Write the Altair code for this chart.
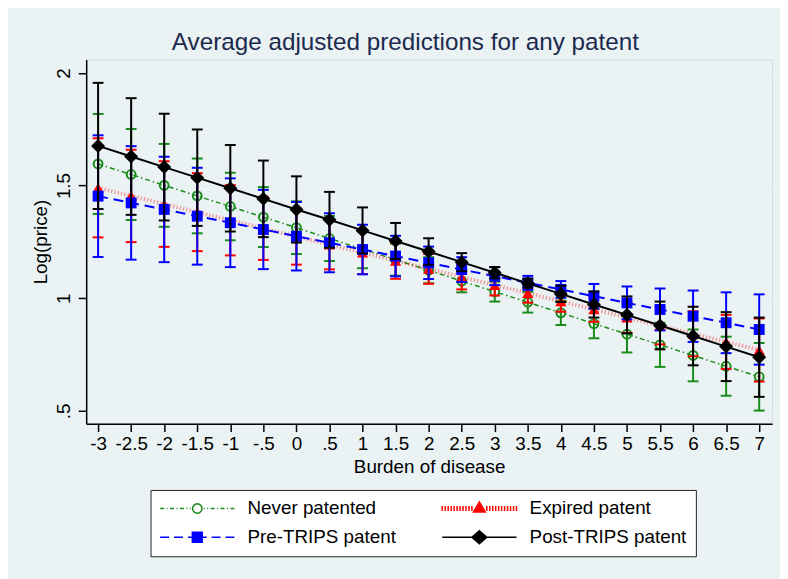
import math
import altair as alt
import pandas as pd

# ---------------- data ----------------
x_values = [-3, -2.5, -2, -1.5, -1, -0.5, 0, 0.5, 1, 1.5, 2, 2.5, 3, 3.5, 4, 4.5, 5, 5.5, 6, 6.5, 7]
x_ticks = [-3, -2.5, -2, -1.5, -1, -0.5, 0, 0.5, 1, 1.5, 2, 2.5, 3, 3.5, 4, 4.5, 5, 5.5, 6, 6.5, 7]
y_ticks = [0.5, 1, 1.5, 2]

series_names = ["Never patented", "Expired patent", "Pre-TRIPS patent", "Post-TRIPS patent"]

never_mean = [1.596, 1.549, 1.501, 1.454, 1.407, 1.360, 1.313, 1.265, 1.218, 1.171, 1.124,
              1.076, 1.029, 0.982, 0.935, 0.887, 0.840, 0.793, 0.746, 0.698, 0.651]
never_half = [0.222, 0.202, 0.184, 0.166, 0.150, 0.133, 0.117, 0.100, 0.085, 0.071, 0.058,
              0.050, 0.044, 0.046, 0.054, 0.065, 0.081, 0.098, 0.115, 0.131, 0.150]

expired_mean = [1.490, 1.454, 1.418, 1.382, 1.346, 1.310, 1.274, 1.238, 1.202, 1.166, 1.130,
                1.094, 1.058, 1.022, 0.986, 0.950, 0.914, 0.878, 0.842, 0.806, 0.770]
expired_half = [0.220, 0.205, 0.190, 0.173, 0.156, 0.140, 0.125, 0.110, 0.095, 0.080, 0.066,
                0.055, 0.046, 0.042, 0.046, 0.055, 0.068, 0.083, 0.100, 0.120, 0.140]

pre_mean = [1.453, 1.423, 1.394, 1.364, 1.335, 1.305, 1.275, 1.246, 1.216, 1.187, 1.157,
            1.127, 1.098, 1.068, 1.039, 1.009, 0.979, 0.950, 0.920, 0.891, 0.861]
pre_half = [0.270, 0.252, 0.234, 0.215, 0.197, 0.176, 0.152, 0.131, 0.110, 0.090, 0.072,
            0.055, 0.040, 0.031, 0.037, 0.054, 0.073, 0.093, 0.114, 0.135, 0.156]

post_mean = [1.676, 1.629, 1.582, 1.535, 1.488, 1.441, 1.394, 1.348, 1.301, 1.254, 1.207,
             1.160, 1.113, 1.066, 1.019, 0.972, 0.926, 0.879, 0.832, 0.785, 0.738]
post_half = [0.280, 0.259, 0.237, 0.214, 0.192, 0.170, 0.147, 0.124, 0.102, 0.080, 0.059,
             0.040, 0.025, 0.020, 0.036, 0.058, 0.082, 0.106, 0.130, 0.153, 0.176]

means = [never_mean, expired_mean, pre_mean, post_mean]
halves = [never_half, expired_half, pre_half, post_half]

rows = []
for name, ms, hs in zip(series_names, means, halves):
    for xv, m, h in zip(x_values, ms, hs):
        rows.append({"series": name, "x": xv, "y": m, "lo": m - h, "hi": m + h})
df = pd.DataFrame(rows)

# ---------------- styles ----------------
FONT = "Liberation Sans"
GREEN, RED, BLUE, BLACK = "#1a8c1a", "#ff0000", "#0000ff", "#000000"
colors = [GREEN, RED, BLUE, BLACK]
fills = ["white", RED, BLUE, BLACK]

styles = {
    "Never patented": dict(color=GREEN, dash=[5, 3, 1.5, 3], width=1.5, lop=1.0,
                           shape="circle", filled=False, size=80),
    "Expired patent": dict(color=RED, dash=[1.2, 2.2], width=4, lop=0.42,
                           shape="triangle-up", filled=True, size=130),
    "Pre-TRIPS patent": dict(color=BLUE, dash=[10, 6], width=2, lop=1.0,
                             shape="square", filled=True, size=121),
    "Post-TRIPS patent": dict(color=BLACK, dash=None, width=2, lop=1.0,
                              shape="diamond", filled=True, size=200),
}

# legend symbols: line sample + marker drawn as one custom path
SYM_SIZE = 256               # legend symbol size -> sqrt = 16 px
U = math.sqrt(SYM_SIZE) / 2  # px per path unit
SW = 1.5
HALF = 37.5                  # half length of the legend line sample, px
entry_size = math.sqrt(SYM_SIZE) + SW
SHIFT = HALF - entry_size / 2  # move the sample so that it starts at the entry origin


def f(v):
    return f"{(v + SHIFT) / U:.4f}"


def fy(v):
    return f"{v / U:.4f}"


def dashed(pattern, inner):
    segs = []
    pos = -HALF
    i = 0
    while pos < -inner:
        ln = pattern[i % len(pattern)]
        end = min(pos + ln, -inner)
        if i % 2 == 0:
            segs.append((pos, end))
        pos += ln
        i += 1
    out = ""
    for a, b in segs:
        out += f"M{f(a)},0H{f(b)}M{f(-b)},0H{f(-a)}"
    return out


def poly(pts):
    return "M" + "L".join(f"{f(px)},{fy(py)}" for px, py in pts) + "Z"


circle_pts = [(4.7 * math.cos(2 * math.pi * k / 24), 4.7 * math.sin(2 * math.pi * k / 24)) for k in range(24)]
hatch = ""
xh = -HALF
while xh < -7:
    hatch += f"M{f(xh)},{fy(-2.5)}V{fy(2.5)}M{f(-xh)},{fy(-2.5)}V{fy(2.5)}"
    xh += 3.0

legend_paths = [
    dashed([4, 2.5, 1, 2.5], 6.5) + poly(circle_pts),
    hatch + poly([(0, -6.7), (5.9, 3.4), (-5.9, 3.4)]),
    dashed([9, 5], 5) + poly([(-5, -5), (5, -5), (5, 5), (-5, 5)]),
    f"M{f(-HALF)},0H{f(HALF)}" + poly([(0, -6.5), (7.5, 0), (0, 6.5), (-7.5, 0)]),
]
label_offset = 2 * HALF + 12.5 - entry_size

# ---------------- scales / axes ----------------
xscale = alt.Scale(domain=[-3.18, 7.195], nice=False, zero=False)
yscale = alt.Scale(domain=[0.443, 2.06], nice=False, zero=False)

x_axis = alt.Axis(values=x_ticks, grid=False, labelOverlap=False, labelFlush=False,
                  labelExpr="datum.value == 0.5 ? '.5' : datum.value == -0.5 ? '-.5' : '' + datum.value",
                  tickSize=8, labelPadding=3, titlePadding=4)
y_axis = alt.Axis(values=y_ticks, grid=True, labelAngle=270, labelAlign="center", labelBaseline="bottom",
                  labelExpr="datum.value == 0.5 ? '.5' : '' + datum.value",
                  tickSize=8, labelPadding=5, titlePadding=4, labelOverlap=False)

X = alt.X("x:Q", scale=xscale, axis=x_axis, title="Burden of disease")


def Yf(field):
    return alt.Y(f"{field}:Q", scale=yscale, axis=y_axis, title="Log(price)")


base = alt.Chart(df)
layers = []
for name in series_names:
    st = styles[name]
    d = base.transform_filter(alt.datum.series == name)
    rule = d.mark_rule(color=st["color"], strokeWidth=2).encode(x=X, y=Yf("lo"), y2="hi:Q")
    cap_lo = d.mark_tick(orient="horizontal", color=st["color"], size=11, thickness=2, opacity=1).encode(x=X, y=Yf("lo"))
    cap_hi = d.mark_tick(orient="horizontal", color=st["color"], size=11, thickness=2, opacity=1).encode(x=X, y=Yf("hi"))
    line_kw = dict(color=st["color"], strokeWidth=st["width"], opacity=st["lop"], strokeCap="butt")
    if st["dash"]:
        line_kw["strokeDash"] = st["dash"]
    line = d.mark_line(**line_kw).encode(x=X, y=Yf("y"))
    pts = d.mark_point(shape=st["shape"], filled=st["filled"], size=st["size"], color=st["color"],
                       opacity=1, strokeWidth=2).encode(x=X, y=Yf("y"))
    layers += [rule, cap_lo, cap_hi, line, pts]

legend_def = alt.Legend(
    title=None, orient="none", legendX=65, legendY=435, columns=2, direction="horizontal",
    labelFont=FONT, labelFontSize=19, labelColor="black", labelOffset=label_offset, labelLimit=400,
    fillColor="white", strokeColor="#222222", padding=9, rowPadding=9.3, columnPadding=43,
    symbolSize=SYM_SIZE, symbolStrokeWidth=SW, symbolOpacity=1,
)

legend_layer = alt.Chart(pd.DataFrame({"series": series_names})).mark_point(
    filled=False, opacity=1, size=SYM_SIZE, strokeWidth=SW
).encode(
    color=alt.Color("series:N", scale=alt.Scale(domain=series_names, range=colors), legend=legend_def),
    fill=alt.Fill("series:N", scale=alt.Scale(domain=series_names, range=fills), legend=legend_def),
    shape=alt.Shape("series:N", scale=alt.Scale(domain=series_names, range=legend_paths), legend=legend_def),
).transform_filter("false")

chart = alt.layer(*layers, legend_layer).properties(
    width=693, height=368,
    title=alt.TitleParams("Average adjusted predictions for any patent", font=FONT, fontSize=24.5,
                          fontWeight="normal", color="#1c2a4e", anchor="middle", dx=-24, dy=22, offset=7,
                          baseline="alphabetic"),
    padding={"left": 79, "top": 49, "right": 8, "bottom": 154},
    autosize=alt.AutoSizeParams(type="none"),
    background="#EAF2F3",
).configure_view(
    fill="white", stroke="#d3dbde", strokeWidth=1,
).configure_axis(
    labelFont=FONT, labelFontSize=19, labelColor="black",
    titleFont=FONT, titleFontSize=19, titleColor="black", titleFontWeight="normal",
    domainColor="black", domainWidth=1.5, tickColor="black", tickWidth=1.5,
    gridColor="#E6EEF1", gridWidth=1.5,
)

chart.save("out.html", embed_options={"renderer": "svg", "actions": False})
